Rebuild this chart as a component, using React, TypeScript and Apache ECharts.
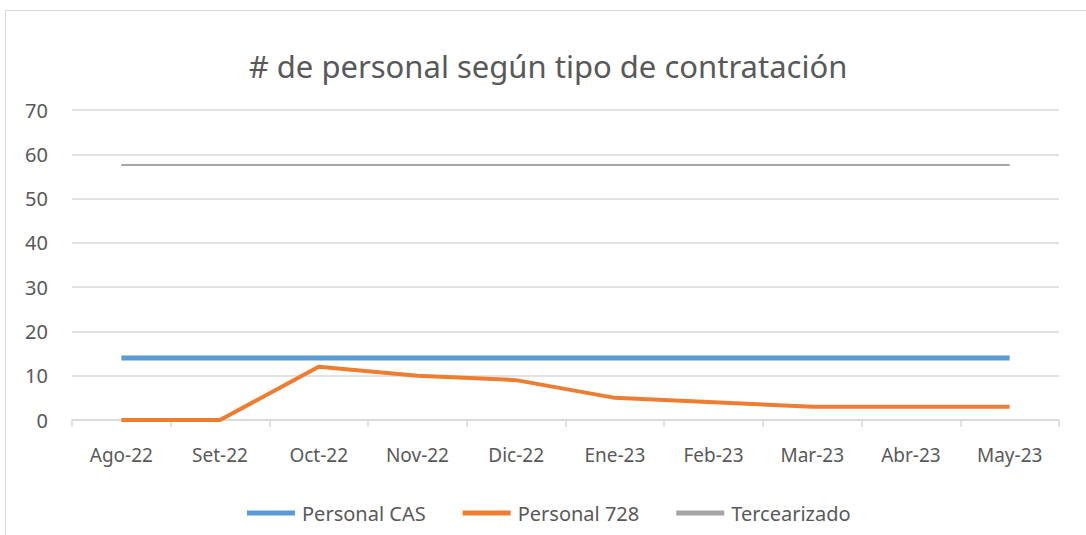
import React, { useEffect, useRef } from "react";
import * as echarts from "echarts";

const categories = ["Ago-22", "Set-22", "Oct-22", "Nov-22", "Dic-22", "Ene-23", "Feb-23", "Mar-23", "Abr-23", "May-23"];
const personalCAS = [14, 14, 14, 14, 14, 14, 14, 14, 14, 14];
const personal728 = [0, 0, 12, 10, 9, 5, 4, 3, 3, 3];
const tercearizado = [57.6, 57.6, 57.6, 57.6, 57.6, 57.6, 57.6, 57.6, 57.6, 57.6];
const seriesNames = ["Personal CAS", "Personal 728", "Tercearizado"];
const titleText = "# de personal según tipo de contratación";

const FONT = "'Noto Sans', sans-serif";
const TEXT = "#595959";

export default function App() {
  const ref = useRef<HTMLDivElement>(null);
  useEffect(() => {
    if (!ref.current) return;
    const chart = echarts.init(ref.current, undefined, { renderer: "svg" });
    chart.setOption({
      animation: false,
      backgroundColor: "#ffffff",
      textStyle: { fontFamily: FONT, color: TEXT },
      graphic: [
        {
          type: "rect",
          shape: { x: 5.5, y: 10.5, width: 1100, height: 600 },
          style: { fill: "none", stroke: "#d9d9d9", lineWidth: 1 },
          silent: true,
        },
      ],
      title: {
        text: titleText,
        left: 543,
        textAlign: "center",
        top: 45,
        textStyle: { fontFamily: FONT, fontSize: 31, fontWeight: "normal", color: TEXT },
      },
      legend: {
        data: seriesNames,
        left: 242,
        top: 498,
        itemWidth: 48,
        itemHeight: 5,
        itemGap: 37,
        icon: "rect",
        textStyle: { fontFamily: FONT, fontSize: 20, color: TEXT, padding: [0, 0, 0, 2] },
      },
      grid: { left: 72, right: 27, top: 110, bottom: 115, containLabel: false },
      xAxis: {
        type: "category",
        data: categories,
        boundaryGap: true,
        axisLine: { lineStyle: { color: "#d9d9d9", width: 1.5 } },
        axisTick: { show: true, length: 7, lineStyle: { color: "#d9d9d9", width: 1.5 } },
        axisLabel: { color: TEXT, fontSize: 19, fontFamily: FONT, margin: 25 },
      },
      yAxis: {
        type: "value",
        min: 0,
        max: 70,
        interval: 10,
        axisLine: { show: false },
        axisTick: { show: false },
        splitLine: { lineStyle: { color: "#d9d9d9", width: 1.5 } },
        axisLabel: { color: TEXT, fontSize: 20, fontFamily: FONT, margin: 24 },
      },
      series: [
        {
          name: seriesNames[0],
          type: "line",
          data: personalCAS,
          symbol: "none",
          lineStyle: { color: "#5B9BD5", width: 5 },
          itemStyle: { color: "#5B9BD5" },
        },
        {
          name: seriesNames[1],
          type: "line",
          data: personal728,
          symbol: "none",
          lineStyle: { color: "#ED7D31", width: 4 },
          itemStyle: { color: "#ED7D31" },
        },
        {
          name: seriesNames[2],
          type: "line",
          data: tercearizado,
          symbol: "none",
          lineStyle: { color: "#A5A5A5", width: 2 },
          itemStyle: { color: "#A5A5A5" },
        },
      ],
    });
    return () => chart.dispose();
  }, []);
  return (
    <div
      ref={ref}
      style={{ position: "fixed", left: 0, top: 0, width: 1086, height: 535 }}
    />
  );
}
